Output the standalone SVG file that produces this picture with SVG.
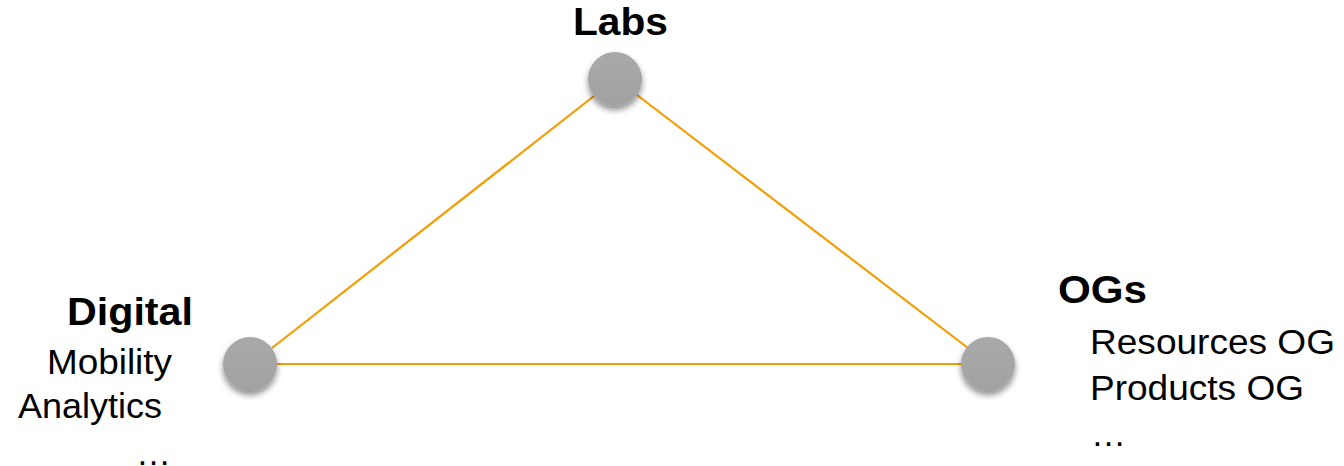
<svg xmlns="http://www.w3.org/2000/svg" width="1344" height="466" viewBox="0 0 1344 466">
  <style>
    .head { font-family: "Liberation Sans", Arial, sans-serif; font-weight: bold; font-size: 38px; fill: #000; }
    .item { font-family: "Liberation Sans", Arial, sans-serif; font-size: 35px; fill: #000; }
    .link { stroke: #F59C00; stroke-width: 2.2; fill: none; }
    .dot { fill: url(#ballFill); filter: url(#ballShadow); }
  </style>
  <defs>
    <linearGradient id="ballFill" x1="0" y1="0" x2="0" y2="1">
      <stop offset="0" stop-color="#A9A9A9"/>
      <stop offset="1" stop-color="#A2A2A2"/>
    </linearGradient>
    <filter id="ballShadow" x="-50%" y="-50%" width="200%" height="220%">
      <feGaussianBlur in="SourceAlpha" stdDeviation="3"/>
      <feOffset dx="0" dy="4" result="blur"/>
      <feComponentTransfer><feFuncA type="linear" slope="0.45"/></feComponentTransfer>
      <feMerge><feMergeNode/><feMergeNode in="SourceGraphic"/></feMerge>
    </filter>
  </defs>

  <g id="connectors">
    <line class="link" x1="594" y1="96" x2="272" y2="348"/>
    <line class="link" x1="637" y1="95" x2="968" y2="348"/>
    <line class="link" x1="277" y1="364" x2="961" y2="364"/>
  </g>

  <g id="labs">
    <circle class="dot" cx="615" cy="79" r="27"/>
    <text class="head" x="573" y="35" textLength="95" lengthAdjust="spacingAndGlyphs">Labs</text>
  </g>

  <g id="digital">
    <circle class="dot" cx="250" cy="364" r="27"/>
    <text class="head" x="67" y="325" textLength="126" lengthAdjust="spacingAndGlyphs">Digital</text>
    <text class="item" x="47" y="374" textLength="125" lengthAdjust="spacingAndGlyphs">Mobility</text>
    <text class="item" x="18" y="418" textLength="144" lengthAdjust="spacingAndGlyphs">Analytics</text>
    <text class="item" x="136" y="465">…</text>
  </g>

  <g id="ogs">
    <circle class="dot" cx="988" cy="364" r="27"/>
    <text class="head" x="1058" y="303" textLength="89" lengthAdjust="spacingAndGlyphs">OGs</text>
    <text class="item" x="1090" y="354" textLength="245" lengthAdjust="spacingAndGlyphs">Resources OG</text>
    <text class="item" x="1090" y="400" textLength="214" lengthAdjust="spacingAndGlyphs">Products OG</text>
    <text class="item" x="1091" y="446">…</text>
  </g>
</svg>
